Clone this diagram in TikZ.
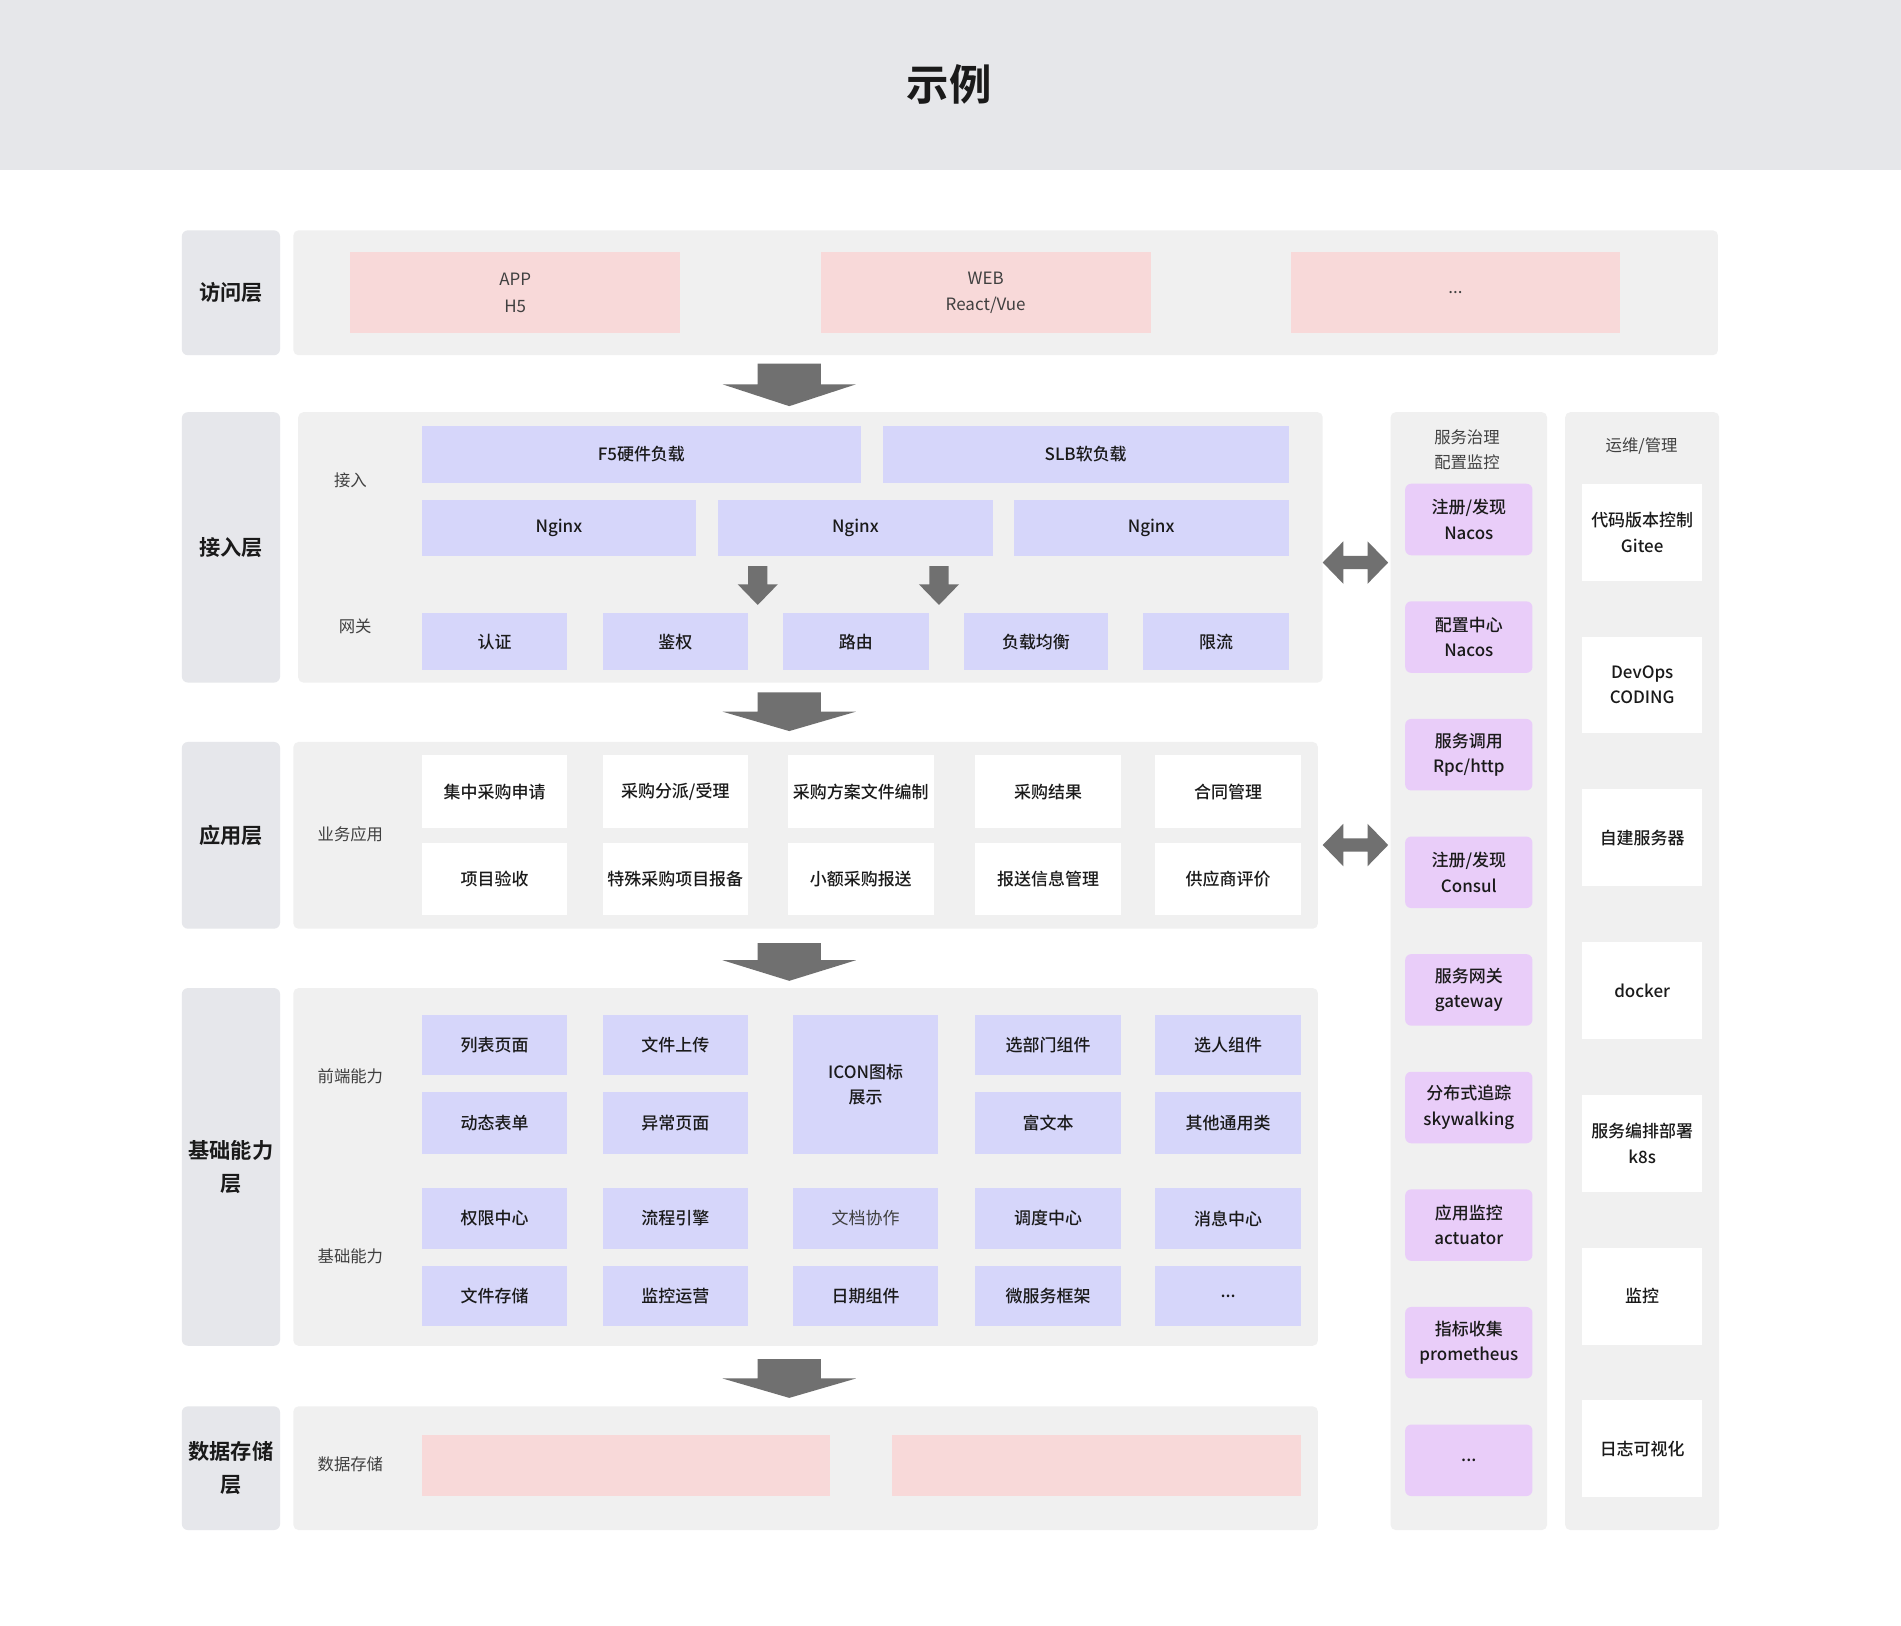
\documentclass[tikz,border=0pt]{standalone}
\usepackage{fontspec}
\setmainfont{Noto Sans CJK SC}[BoldFont={Noto Sans CJK SC Medium}]
\newfontfamily\titlefont{Noto Sans CJK SC Bold}
\definecolor{hdr}{RGB}{230,231,234}
\definecolor{layerbg}{RGB}{230,231,235}
\definecolor{panelbg}{RGB}{240,240,240}
\definecolor{pinkc}{RGB}{248,217,217}
\definecolor{lavc}{RGB}{214,214,250}
\definecolor{purc}{RGB}{233,205,249}
\definecolor{arrowc}{RGB}{112,112,112}
\definecolor{txt}{RGB}{26,26,26}
\definecolor{sidetxt}{RGB}{64,64,64}
\newcommand\Bx[7]{\node[#6, minimum width={(#4-#2)*0.6pt}, minimum height={(#5-#3)*0.6pt}] (#1) at ({(#2+#4)/2},{(#3+#5)/2}) {#7};}
\newcommand\DArrow[6]{\fill[arrowc] ({#1-#5},#2) -- ({#1+#5},#2) -- ({#1+#5},#3) -- ({#1+#6},#3) -- (#1,#4) -- ({#1-#6},#3) -- ({#1-#5},#3) -- cycle;}
\newcommand\HArrow[1]{\fill[arrowc] (1091,#1) -- (1108,{#1-17.5}) -- (1108,{#1-5.5}) -- (1128,{#1-5.5}) -- (1128,{#1-17.5}) -- (1145,#1) -- (1128,{#1+17.5}) -- (1128,{#1+5.5}) -- (1108,{#1+5.5}) -- (1108,{#1+17.5}) -- cycle;}
\begin{document}
\begin{tikzpicture}[x=0.6pt,y=-0.6pt,
  every node/.style={inner sep=0pt, outer sep=0pt},
  layer/.style={fill=layerbg, rounded corners=3pt, font=\fontsize{10.5}{16.2}\selectfont\titlefont, text=txt, align=center},
  panel/.style={fill=panelbg, rounded corners=2.5pt},
  boxtxt/.style={font=\fontsize{8.4}{12.6}\selectfont\bfseries, text=txt, align=center},
  lighttxt/.style={font=\fontsize{8.4}{13.2}\selectfont, text=sidetxt, align=center},
  pinkbox/.style={fill=pinkc, lighttxt},
  lav/.style={fill=lavc, boxtxt},
  wbox/.style={fill=white, boxtxt},
  purp/.style={fill=purc, rounded corners=3pt, boxtxt},
  side/.style={font=\fontsize{8.1}{12.6}\selectfont, text=sidetxt, align=center}]
\useasboundingbox (0,0) rectangle (1568,1341);
\fill[white] (0,0) rectangle (1568,1341);
\fill[hdr] (0,0) rectangle (1568,140);
\node[font=\fontsize{21}{25}\selectfont\titlefont, text=txt] (title) at (783,70) {示例};
% layer labels
\Bx{L1}{150}{190}{231}{293}{layer}{访问层}
\Bx{L2}{150}{340}{231}{563}{layer}{接入层}
\Bx{L3}{150}{612}{231}{766}{layer}{应用层}
\Bx{L4}{150}{815}{231}{1110}{layer}{基础能力\\层}
\Bx{L5}{150}{1160}{231}{1262}{layer}{数据存储\\层}
% panels
\Bx{P1}{242}{190}{1417}{293}{panel}{}
\Bx{P2}{246}{340}{1091}{563}{panel}{}
\Bx{P3}{242}{612}{1087}{766}{panel}{}
\Bx{P4}{242}{815}{1087}{1110}{panel}{}
\Bx{P5}{242}{1160}{1087}{1262}{panel}{}
\Bx{P6}{1147}{340}{1276}{1262}{panel}{}
\Bx{P7}{1291}{340}{1418}{1262}{panel}{}
% access layer
\Bx{app}{289}{208}{561}{275}{pinkbox}{APP\\H5}
\Bx{web}{677}{208}{949}{275}{pinkbox}{WEB\\React/Vue}
\Bx{etc1}{1065}{208}{1336}{275}{pinkbox}{...}
% ingress layer
\node[side] (lj) at (289,396) {接入};
\node[side] (lw) at (293,517) {网关};
\Bx{f5}{348}{351}{710}{398}{lav}{F5硬件负载}
\Bx{slb}{728}{351}{1063}{398}{lav}{SLB软负载}
\Bx{ng1}{348}{412}{574}{459}{lav}{Nginx}
\Bx{ng2}{592}{412}{819}{459}{lav}{Nginx}
\Bx{ng3}{836}{412}{1063}{459}{lav}{Nginx}
\Bx{g1}{348}{506}{468}{553}{lav}{认证}
\Bx{g2}{497}{506}{617}{553}{lav}{鉴权}
\Bx{g3}{646}{506}{766}{553}{lav}{路由}
\Bx{g4}{795}{506}{914}{553}{lav}{负载均衡}
\Bx{g5}{943}{506}{1063}{553}{lav}{限流}
% application layer
\node[side] (lb) at (289,688) {业务应用};
\Bx{a1}{348}{623}{468}{683}{wbox}{集中采购申请}
\Bx{a2}{497}{623}{617}{683}{wbox}{采购分派/受理}
\Bx{a3}{650}{623}{770}{683}{wbox}{采购方案文件编制}
\Bx{a4}{804}{623}{925}{683}{wbox}{采购结果}
\Bx{a5}{953}{623}{1073}{683}{wbox}{合同管理}
\Bx{a6}{348}{695}{468}{755}{wbox}{项目验收}
\Bx{a7}{497}{695}{617}{755}{wbox}{特殊采购项目报备}
\Bx{a8}{650}{695}{770}{755}{wbox}{小额采购报送}
\Bx{a9}{804}{695}{925}{755}{wbox}{报送信息管理}
\Bx{a10}{953}{695}{1073}{755}{wbox}{供应商评价}
% base capability layer
\node[side] (lq) at (289,888) {前端能力};
\node[side] (lc) at (289,1036) {基础能力};
\Bx{b1}{348}{837}{468}{887}{lav}{列表页面}
\Bx{b2}{497}{837}{617}{887}{lav}{文件上传}
\Bx{b3}{654}{837}{774}{952}{lav}{ICON图标\\展示}
\Bx{b4}{804}{837}{925}{887}{lav}{选部门组件}
\Bx{b5}{953}{837}{1073}{887}{lav}{选人组件}
\Bx{b6}{348}{901}{468}{952}{lav}{动态表单}
\Bx{b7}{497}{901}{617}{952}{lav}{异常页面}
\Bx{b8}{804}{901}{925}{952}{lav}{富文本}
\Bx{b9}{953}{901}{1073}{952}{lav}{其他通用类}
\Bx{c1}{348}{980}{468}{1030}{lav}{权限中心}
\Bx{c2}{497}{980}{617}{1030}{lav}{流程引擎}
\Bx{c3}{654}{980}{774}{1030}{lav, font=\fontsize{8.4}{12.6}\selectfont, text=sidetxt}{文档协作}
\Bx{c4}{804}{980}{925}{1030}{lav}{调度中心}
\Bx{c5}{953}{980}{1073}{1030}{lav}{消息中心}
\Bx{c6}{348}{1044}{468}{1094}{lav}{文件存储}
\Bx{c7}{497}{1044}{617}{1094}{lav}{监控运营}
\Bx{c8}{654}{1044}{774}{1094}{lav}{日期组件}
\Bx{c9}{804}{1044}{925}{1094}{lav}{微服务框架}
\Bx{c10}{953}{1044}{1073}{1094}{lav}{...}
% data layer
\node[side] (ld) at (289,1208) {数据存储};
\Bx{d1}{348}{1184}{685}{1234}{pinkbox}{}
\Bx{d2}{736}{1184}{1073}{1234}{pinkbox}{}
% governance column
\node[side] (lg) at (1210,371) {服务治理\\配置监控};
\Bx{s1}{1159}{399}{1264}{458}{purp}{注册/发现\\Nacos}
\Bx{s2}{1159}{496}{1264}{555}{purp}{配置中心\\Nacos}
\Bx{s3}{1159}{593}{1264}{652}{purp}{服务调用\\Rpc/http}
\Bx{s4}{1159}{690}{1264}{749}{purp}{注册/发现\\Consul}
\Bx{s5}{1159}{787}{1264}{846}{purp}{服务网关\\gateway}
\Bx{s6}{1159}{884}{1264}{943}{purp}{分布式追踪\\skywalking}
\Bx{s7}{1159}{981}{1264}{1040}{purp}{应用监控\\actuator}
\Bx{s8}{1159}{1078}{1264}{1137}{purp}{指标收集\\prometheus}
\Bx{s9}{1159}{1175}{1264}{1234}{purp}{...}
% ops column
\node[side] (lo) at (1354,368) {运维/管理};
\Bx{o1}{1305}{399}{1404}{479}{wbox}{代码版本控制\\Gitee}
\Bx{o2}{1305}{525}{1404}{605}{wbox}{DevOps\\CODING}
\Bx{o3}{1305}{651}{1404}{731}{wbox}{自建服务器}
\Bx{o4}{1305}{777}{1404}{857}{wbox}{docker}
\Bx{o5}{1305}{903}{1404}{983}{wbox}{服务编排部署\\k8s}
\Bx{o6}{1305}{1029}{1404}{1109}{wbox}{监控}
\Bx{o7}{1305}{1155}{1404}{1235}{wbox}{日志可视化}
% arrows
\DArrow{651}{300}{317}{335}{26}{55}
\DArrow{651}{571}{587}{603}{26}{55}
\DArrow{651}{778}{792}{809}{26}{55}
\DArrow{651}{1121}{1137}{1153}{26}{55}
\DArrow{625}{467}{482}{499}{8}{16.5}
\DArrow{774.5}{467}{482}{499}{8}{16.5}
\HArrow{464}
\HArrow{697}
\end{tikzpicture}
\end{document}
